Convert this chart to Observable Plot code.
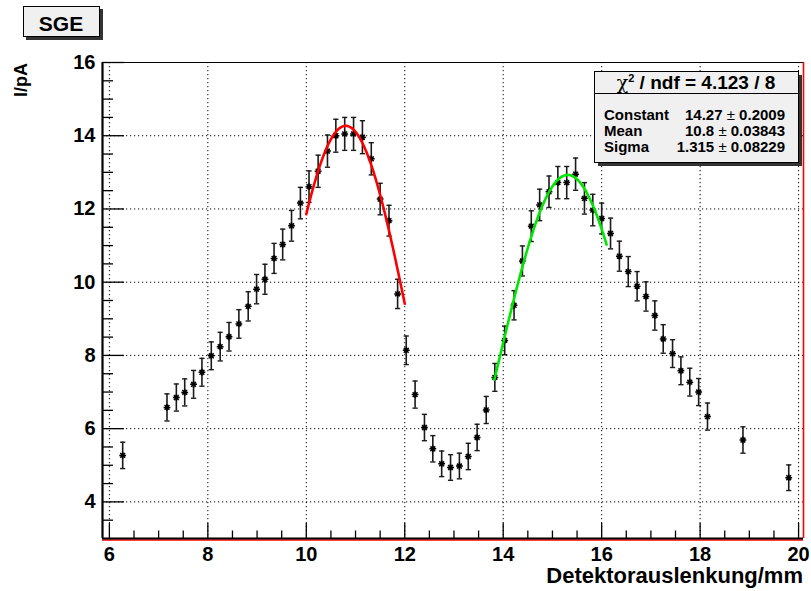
<!DOCTYPE html>
<html><head><meta charset="utf-8">
<script src="https://cdn.jsdelivr.net/npm/d3@7"></script>
<script src="https://cdn.jsdelivr.net/npm/@observablehq/plot@0.6"></script>
<style>body{margin:0;background:#fff} svg{display:block}</style>
</head><body><div id="chart"></div>
<script>
// ---- data ----
const positions = [6.27, 7.17, 7.36, 7.53, 7.71, 7.88, 8.07, 8.25, 8.43, 8.63, 8.82, 8.99, 9.16, 9.345, 9.52, 9.70, 9.88, 10.055, 10.24, 10.43, 10.60, 10.78, 10.96, 11.14, 11.32, 11.50, 11.68, 11.855, 12.03, 12.21, 12.40, 12.57, 12.75, 12.93, 13.11, 13.29, 13.47, 13.655, 13.83, 14.03, 14.22, 14.39, 14.57, 14.74, 14.93, 15.11, 15.29, 15.47, 15.65, 15.82, 16.00, 16.18, 16.36, 16.54, 16.72, 16.90, 17.08, 17.25, 17.44, 17.61, 17.79, 17.97, 18.15, 18.87, 19.80];
const currents = [5.27, 6.58, 6.85, 6.99, 7.21, 7.54, 7.99, 8.24, 8.51, 8.86, 9.34, 9.81, 10.08, 10.65, 11.03, 11.54, 12.16, 12.61, 13.03, 13.58, 14.00, 14.05, 14.05, 13.96, 13.37, 12.27, 11.68, 9.68, 8.14, 6.93, 6.03, 5.45, 5.04, 4.94, 4.98, 5.24, 5.76, 6.51, 7.40, 8.41, 9.37, 10.58, 11.53, 12.11, 12.47, 12.72, 12.72, 12.95, 12.29, 11.97, 11.74, 11.33, 10.71, 10.29, 9.89, 9.61, 9.09, 8.45, 8.05, 7.58, 7.27, 7.00, 6.33, 5.69, 4.66];
const errors = [0.36, 0.37, 0.37, 0.37, 0.38, 0.38, 0.38, 0.39, 0.39, 0.39, 0.40, 0.40, 0.41, 0.41, 0.42, 0.42, 0.43, 0.43, 0.44, 0.44, 0.45, 0.45, 0.45, 0.45, 0.44, 0.43, 0.42, 0.40, 0.39, 0.37, 0.36, 0.36, 0.35, 0.35, 0.35, 0.36, 0.36, 0.37, 0.38, 0.39, 0.40, 0.41, 0.42, 0.43, 0.43, 0.44, 0.44, 0.44, 0.43, 0.43, 0.42, 0.42, 0.41, 0.41, 0.40, 0.40, 0.40, 0.39, 0.38, 0.38, 0.38, 0.37, 0.37, 0.36, 0.35];

const xMajorTicks = [6, 8, 10, 12, 14, 16, 18, 20];
const xTickLabels = ["6", "8", "10", "12", "14", "16", "18", "20"];
const xMinorTicks = [6.5, 7, 7.5, 8.5, 9, 9.5, 10.5, 11, 11.5, 12.5, 13, 13.5, 14.5, 15, 15.5, 16.5, 17, 17.5, 18.5, 19, 19.5];
const yMajorTicks = [4, 6, 8, 10, 12, 14, 16];
const yTickLabels = ["4", "6", "8", "10", "12", "14", "16"];
const yMinorTicks = [3.5, 4.5, 5, 5.5, 6.5, 7, 7.5, 8.5, 9, 9.5, 10.5, 11, 11.5, 12.5, 13, 13.5, 14.5, 15, 15.5];

// Gaussian fits: [constant, mean, sigma, from, to]
const fitRed = [14.27, 10.8, 1.315, 10.0, 12.0];
const fitGreen = [12.93, 15.31, 1.40, 13.82, 16.1];

const statsRows = [["Constant", "14.27", "0.2009"], ["Mean", "10.8", "0.03843"], ["Sigma", "1.315", "0.08229"]];
const statsHeader = ["4.123", "8"];
const titleText = "SGE";
const xLabel = "Detektorauslenkung/mm";
const yLabel = "I/pA";

// ---- build ----
const data = positions.map((x, i) => ({x, y: currents[i], e: errors[i]}));
function fitCurve(p) {
  const [c, m, s, a, b] = p;
  return d3.range(0, 201).map(k => {
    const x = a + (b - a) * k / 200;
    return {x, y: c * Math.exp(-0.5 * ((x - m) / s) ** 2)};
  });
}
const capSym = {draw(ctx, size) {const w = Math.sqrt(size / Math.PI); ctx.moveTo(-w, 0); ctx.lineTo(w, 0);}};
const starSym = {draw(ctx, size) {
  const r = Math.sqrt(size / Math.PI), d = r * 0.7071;
  ctx.moveTo(-r, 0); ctx.lineTo(r, 0); ctx.moveTo(0, -r); ctx.lineTo(0, r);
  ctx.moveTo(-d, -d); ctx.lineTo(d, d); ctx.moveTo(-d, d); ctx.lineTo(d, -d);
}};

const font = "'Liberation Sans', Arial, Helvetica, sans-serif";
const xd = [5.86, 20.1], yd = [3.0, 16.0];
const tk = {stroke: "#000", strokeWidth: 1.3, strokeOpacity: 1};

const plot = Plot.plot({
  width: 811, height: 591,
  marginLeft: 102, marginRight: 8, marginTop: 62, marginBottom: 53,
  x: {domain: xd}, y: {domain: yd},
  style: {fontFamily: font, fontWeight: "bold", background: "#fff", overflow: "visible"},
  marks: [
    Plot.gridX(xMajorTicks, {stroke: "#000", strokeOpacity: 1, strokeDasharray: "1.2,2.8", strokeWidth: 1}),
    Plot.gridY(yMajorTicks, {stroke: "#000", strokeOpacity: 1, strokeDasharray: "1.2,2.8", strokeWidth: 1}),
    Plot.ruleX(data, {x: "x", y1: d => d.y - d.e, y2: d => d.y + d.e, stroke: "#1a1a1a", strokeWidth: 1.6}),
    Plot.dot(data, {x: "x", y: d => d.y + d.e, symbol: capSym, r: 2.6, stroke: "#1a1a1a", strokeWidth: 1.4}),
    Plot.dot(data, {x: "x", y: d => d.y - d.e, symbol: capSym, r: 2.6, stroke: "#1a1a1a", strokeWidth: 1.4}),
    Plot.dot(data, {x: "x", y: "y", symbol: starSym, r: 3.4, stroke: "#000", strokeWidth: 1.5}),
    Plot.line(fitCurve(fitRed), {x: "x", y: "y", stroke: "#ff0000", strokeWidth: 2.6}),
    Plot.line(fitCurve(fitGreen), {x: "x", y: "y", stroke: "#00e600", strokeWidth: 2.6}),
    // ticks inside frame
    Plot.ruleX(xMajorTicks, {x: d => d, y1: yd[0], y2: yd[0], insetTop: 0, insetBottom: 15, ...tk}),
    Plot.ruleX(xMinorTicks, {x: d => d, y1: yd[0], y2: yd[0], insetTop: 0, insetBottom: 7.5, ...tk}),
    Plot.ruleY(yMajorTicks, {y: d => d, x1: xd[0], x2: xd[0], insetLeft: 0, insetRight: -22, ...tk}),
    Plot.ruleY(yMinorTicks, {y: d => d, x1: xd[0], x2: xd[0], insetLeft: 0, insetRight: -11, ...tk}),
    // labels
    Plot.axisX(xMajorTicks, {tickSize: 0, tickPadding: 8, label: null, tickFormat: (d, i) => xTickLabels[i], fontSize: 20, fontWeight: "bold", fill: "#000"}),
    Plot.axisY(yMajorTicks, {tickSize: 0, tickPadding: 7, label: null, tickFormat: (d, i) => yTickLabels[i], fontSize: 20, fontWeight: "bold", fill: "#000"}),
    // frame
    Plot.ruleY([yd[1]], {stroke: "#000", strokeWidth: 1}),
    Plot.ruleY([yd[0]], {stroke: "#ff0000", strokeWidth: 1.4, dy: 1.5}),
    Plot.ruleX([xd[1]], {stroke: "#ff0000", strokeWidth: 1.6}),
    Plot.ruleX([xd[0]], {stroke: "#000", strokeWidth: 2.2}),
    Plot.ruleY([yd[0]], {stroke: "#000", strokeWidth: 2.2})
  ]
});
document.getElementById("chart").appendChild(plot);

const svg = d3.select(plot);
const g = svg.append("g").attr("font-family", font).attr("font-weight", "bold").attr("fill", "#000").attr("text-anchor", "start");

// title box
g.append("rect").attr("x", 26).attr("y", 9).attr("width", 77).attr("height", 31).attr("fill", "#333");
g.append("rect").attr("x", 23.5).attr("y", 6.5).attr("width", 76).attr("height", 30).attr("fill", "#f0f0f0").attr("stroke", "#000").attr("stroke-width", 1);
g.append("text").attr("x", 61).attr("y", 31).attr("text-anchor", "middle").attr("font-size", 21).text(titleText);

// axis titles
g.append("text").attr("transform", "translate(27,63) rotate(-90)").attr("text-anchor", "end").attr("font-size", 18).text(yLabel);
g.append("text").attr("x", 803).attr("y", 583).attr("text-anchor", "end").attr("font-size", 22).text(xLabel);

// stats box
const bx = 594, by = 71, bw = 204, bh = 91;
g.append("rect").attr("x", bx + 4).attr("y", by + 4).attr("width", bw).attr("height", bh).attr("fill", "#333");
g.append("rect").attr("x", bx + 0.5).attr("y", by + 0.5).attr("width", bw).attr("height", bh).attr("fill", "#f0f0f0").attr("stroke", "#000").attr("stroke-width", 1);
g.append("line").attr("x1", bx).attr("x2", bx + bw).attr("y1", 93.5).attr("y2", 93.5).attr("stroke", "#000").attr("stroke-width", 1);
const hdr = g.append("text").attr("x", bx + bw / 2).attr("y", 89).attr("text-anchor", "middle").attr("font-size", 19);
hdr.append("tspan").attr("font-weight", "normal").attr("font-family", "'DejaVu Serif', serif").text("χ");
hdr.append("tspan").attr("dy", -7).attr("font-size", 11).text("2");
hdr.append("tspan").attr("dy", 7).text(` / ndf = ${statsHeader[0]} / ${statsHeader[1]}`);
const rowY = [120, 136, 152];
statsRows.forEach((r, i) => {
  g.append("text").attr("x", 604).attr("y", rowY[i]).attr("text-anchor", "start").attr("font-size", 15).text(r[0]);
  const t = g.append("text").attr("x", 785).attr("y", rowY[i]).attr("text-anchor", "end").attr("font-size", 15);
  t.append("tspan").text(r[1] + " ");
  t.append("tspan").attr("font-weight", "normal").text("±");
  t.append("tspan").text(" " + r[2]);
});
</script>
</body></html>
